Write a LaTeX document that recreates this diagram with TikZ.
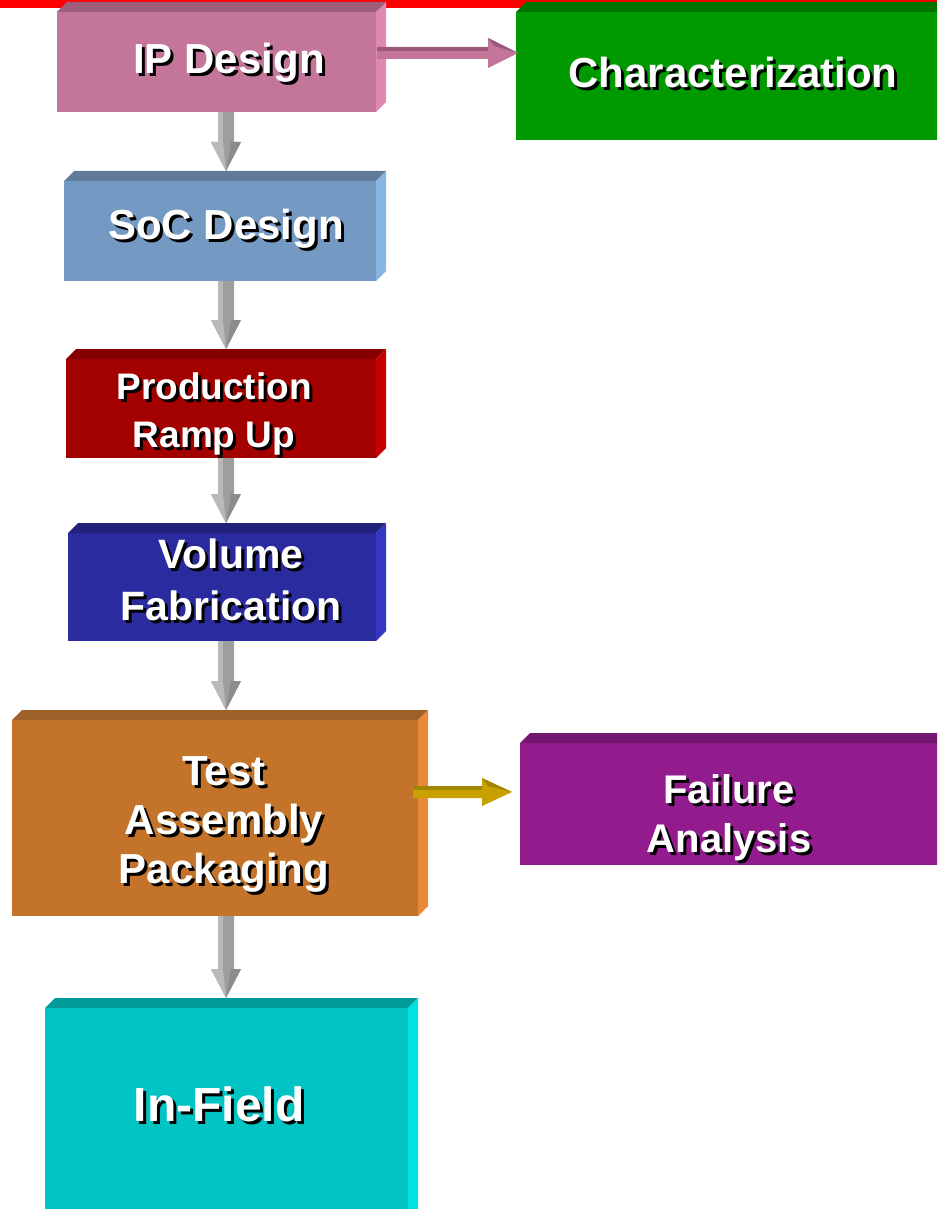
\documentclass[tikz,border=0pt]{standalone}
\usepackage{fontspec}
\setmainfont{Liberation Sans}
\usetikzlibrary{calc}

% face colours of the blocks: front / top / side
\definecolor{bandred}{HTML}{FF0000}
\definecolor{ipF}{HTML}{C4769A}\definecolor{ipT}{HTML}{9C5E7A}\definecolor{ipS}{HTML}{E088B4}
\definecolor{chF}{HTML}{009900}\definecolor{chT}{HTML}{007400}\definecolor{chS}{HTML}{00B800}
\definecolor{soF}{HTML}{749AC4}\definecolor{soT}{HTML}{5F7B99}\definecolor{soS}{HTML}{88B6E2}
\definecolor{prF}{HTML}{A30000}\definecolor{prT}{HTML}{870000}\definecolor{prS}{HTML}{C80000}
\definecolor{voF}{HTML}{2B2BA0}\definecolor{voT}{HTML}{22227C}\definecolor{voS}{HTML}{3636C4}
\definecolor{teF}{HTML}{C4742A}\definecolor{teT}{HTML}{A0602A}\definecolor{teS}{HTML}{E8893A}
\definecolor{faF}{HTML}{921C8E}\definecolor{faT}{HTML}{731870}\definecolor{faS}{HTML}{B024AC}
\definecolor{inF}{HTML}{00C4C4}\definecolor{inT}{HTML}{009A9A}\definecolor{inS}{HTML}{00E2E2}
% arrow colours
\definecolor{grayA}{HTML}{9E9E9E}\definecolor{grayL}{HTML}{B9B9B9}\definecolor{grayD}{HTML}{8C8C8C}
\definecolor{pinkA}{HTML}{C4769A}\definecolor{pinkD}{HTML}{9C5A7A}
\definecolor{goldA}{HTML}{C8A000}\definecolor{goldD}{HTML}{A08600}

% white bold text with a black drop shadow
\newcommand\shad[1]{\rlap{\kern3pt\raisebox{-3pt}{\color{black}#1}}{\color{white}#1}}

% block: name, x1, y1, x2, y2 (front face, pixel units, y downwards), front, top, side
\newcommand\cube[8]{%
  \node[cubeface, fill=#6, minimum width={(#4-#2)*1pt}, minimum height={(#5-#3)*1pt}]
    (#1) at ({(#2+#4)/2},{-(#3+#5)/2}) {};
  \fill[#7] (#1.north west) -- ++(10,10) -- ([shift={(10,10)}]#1.north east) -- (#1.north east) -- cycle;
  \fill[#8] (#1.north east) -- ++(10,10) -- ([shift={(10,10)}]#1.south east) -- (#1.south east) -- cycle;
}

% grey downward block arrow between two blocks, in column #3
\newcommand\grayarrow[3]{%
  \fill[grayA] let \p1=(#1.south), \p2=(#2.north) in
    (#3-8,\y1) -- (#3+8,\y1) -- (#3+8,\y2+39) -- (#3+15,\y2+39) -- (#3,\y2+10)
    -- (#3-15,\y2+39) -- (#3-8,\y2+39) -- cycle;
  \fill[grayL] let \p1=(#1.south), \p2=(#2.north) in
    (#3-8,\y1) rectangle (#3-3,\y2+39);
  \fill[grayL] let \p2=(#2.north) in
    (#3-15,\y2+39) -- (#3,\y2+10) -- (#3-3,\y2+39) -- cycle;
  \fill[grayD] let \p2=(#2.north) in
    (#3+15,\y2+39) -- (#3,\y2+10) -- (#3+5,\y2+39) -- cycle;
}

% sideways block arrow: from, to, y (pixel), start shift, tip shift, shaft half, head half, colour prefix
\newcommand\sidearrow[8]{%
  \fill[#8A] let \p1=(#1.east), \p2=(#2.west) in
    (\x1+#4,-#3+#6) -- (\x2+#5-30,-#3+#6) -- (\x2+#5-30,-#3+#7) -- (\x2+#5,-#3)
    -- (\x2+#5-30,-#3-#7) -- (\x2+#5-30,-#3-#6) -- (\x1+#4,-#3-#6) -- cycle;
  \fill[#8D] let \p1=(#1.east), \p2=(#2.west) in
    (\x1+#4,-#3+#6) rectangle (\x2+#5-30,-#3+#6-4);
  \fill[#8D] let \p2=(#2.west) in
    (\x2+#5-30,-#3+#7) -- (\x2+#5,-#3) -- (\x2+#5-24,-#3+#7-8) -- cycle;
}

\begin{document}
\begin{tikzpicture}[x=1pt,y=1pt,
  cubeface/.style={rectangle, inner sep=0pt, outer sep=0pt, draw=none},
  lbl/.style={inner sep=0pt, anchor=base, align=center},
  big/.style={font=\bfseries\fontsize{42}{49}\selectfont}]
\useasboundingbox (0,0) rectangle (937,-1209);
\clip (0,0) rectangle (937,-1209);

% red band along the top edge
\fill[bandred] (0,0) rectangle (937,-8);

% blocks
\cube{ip}{57}{12}{376}{112}{ipF}{ipT}{ipS}
\cube{char}{516}{12}{960}{140}{chF}{chT}{chS}
\cube{soc}{64}{181}{376}{281}{soF}{soT}{soS}
\cube{prod}{66}{359}{376}{458}{prF}{prT}{prS}
\cube{vol}{68}{533}{376}{641}{voF}{voT}{voS}
\cube{test}{12}{720}{418}{916}{teF}{teT}{teS}
\cube{fail}{520}{743}{960}{865}{faF}{faT}{faS}
\cube{field}{45}{1008}{408}{1230}{inF}{inT}{inS}

% labels (base anchor = baseline of the last line)
\node[lbl, big] (ipL) at (229,-74) {\shad{IP Design}};
\node[lbl, big] (charL) at (733,-88) {\shad{Characterization}};
\node[lbl, big] (socL) at (226,-239) {\shad{SoC Design}};
\node[lbl, font=\bfseries\fontsize{37}{48}\selectfont] (prodL) at (214,-447)
  {\shad{Production}\\\shad{Ramp Up}};
\node[lbl, font=\bfseries\fontsize{41}{52}\selectfont] (volL) at (231,-620)
  {\shad{Volume}\\\shad{Fabrication}};
\node[lbl, big] (testL) at (224,-883)
  {\shad{Test}\\\shad{Assembly}\\\shad{Packaging}};
\node[lbl, font=\bfseries\fontsize{40}{49}\selectfont] (failL) at (729,-852)
  {\shad{Failure}\\\shad{Analysis}};
\node[lbl, font=\bfseries\fontsize{48}{56}\selectfont] (fieldL) at (219,-1121) {\shad{In-Field}};

% flow arrows
\grayarrow{ip}{soc}{226}
\grayarrow{soc}{prod}{226}
\grayarrow{prod}{vol}{226}
\grayarrow{vol}{test}{226}
\grayarrow{test}{field}{226}
\sidearrow{ip}{char}{53}{1}{2}{6}{15}{pink}
\sidearrow{test}{fail}{792}{-5}{-8}{6}{14}{gold}
\end{tikzpicture}
\end{document}
